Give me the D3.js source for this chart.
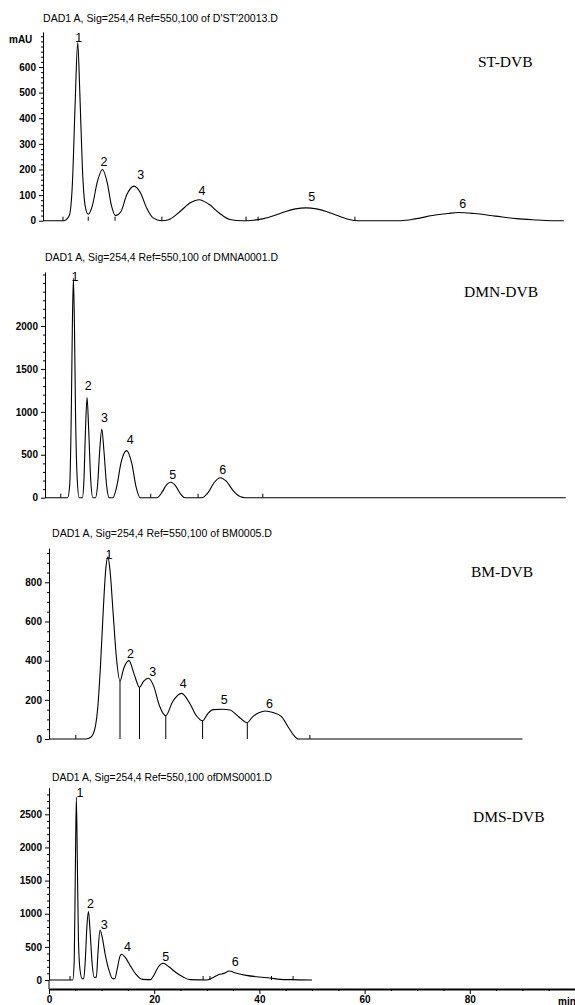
<!DOCTYPE html>
<html><head><meta charset="utf-8">
<script src="https://cdn.jsdelivr.net/npm/d3@7"></script>
<style>body{margin:0;background:#fff}svg{display:block}</style>
</head><body>
<svg id="c" width="575" height="1005"></svg>
<script>
// ---------- DATA ----------
const panelNames = ["ST-DVB", "DMN-DVB", "BM-DVB", "DMS-DVB"];
const panelTitles = [
  "DAD1 A, Sig=254,4 Ref=550,100 of D'ST'20013.D",
  "DAD1 A, Sig=254,4 Ref=550,100 of DMNA0001.D",
  "DAD1 A, Sig=254,4 Ref=550,100 of BM0005.D",
  "DAD1 A, Sig=254,4 Ref=550,100 ofDMS0001.D"
];
// [time (min), signal (mAU)]
const stTrace = [[0,0],[4,0],[5.0,20],[5.6,150],[6.1,450],[6.6,695],[7.0,500],[7.5,200],[8.0,60],[8.6,25],[9.4,60],[10.3,150],[11.3,200],[12.2,150],[13.0,60],[13.8,20],[14.8,35],[15.9,100],[17.3,135],[18.5,110],[19.7,50],[21,10],[22.5,0],[24,5],[26,35],[28,70],[29.7,82],[31.5,65],[33.5,30],[35.5,5],[38,0],[40,2],[42,8],[44,20],[46,35],[48,46],[50,50],[52,46],[54,35],[56,20],[58,6],[60,0],[68,0],[71,8],[74,20],[77,28],[79,32],[82,28],[86,18],[90,8],[94,3],[97,0],[99,0]];
const dmnTrace = [[0,0],[4.3,0],[4.7,150],[5.0,1000],[5.2,2000],[5.4,2557],[5.6,2000],[5.8,1000],[6.1,250],[6.5,0],[7.1,0],[7.4,200],[7.7,800],[8.0,1166],[8.3,800],[8.7,200],[9.1,0],[9.6,0],[10.0,150],[10.4,550],[10.8,800],[11.2,550],[11.7,150],[12.2,0],[12.9,0],[13.6,120],[14.5,420],[15.5,548],[16.5,400],[17.3,130],[18.1,0],[21.3,0],[22.3,70],[23.1,150],[23.9,180],[24.8,140],[25.7,50],[26.6,0],[29.8,0],[31,60],[32.2,180],[33.3,233],[34.5,190],[35.8,80],[37.2,10],[38,0],[99,0]];
const bmTrace = [[0,0],[7,0],[8,10],[8.7,50],[9.3,170],[9.8,380],[10.3,650],[10.8,870],[11.2,930],[11.6,860],[12.2,640],[12.8,420],[13.5,296],[14.2,360],[15.2,400],[16.2,330],[17.2,264],[18,295],[18.9,310],[19.9,270],[21,170],[22.2,119],[23.5,190],[25.2,233],[26.8,180],[28,120],[29.2,93],[30.2,130],[31.2,150],[33,152],[34.4,148],[36,115],[37.7,83],[38.6,110],[40,135],[41.1,143],[42.6,135],[44.2,114],[45.5,60],[46.5,20],[47.4,0],[90,0]];
const dmsTrace = [[0,0],[4.5,0],[4.8,300],[5.0,1600],[5.2,2760],[5.4,1700],[5.6,600],[5.9,150],[6.3,20],[6.6,20],[6.9,300],[7.2,800],[7.5,1032],[7.8,750],[8.2,250],[8.6,40],[9.0,40],[9.3,400],[9.7,755],[10.1,650],[10.7,380],[11.4,150],[12.1,20],[12.5,20],[13.0,180],[13.5,360],[13.8,388],[14.5,340],[15.5,210],[16.5,90],[17.8,10],[19.3,5],[20.0,80],[20.8,200],[21.7,252],[22.8,200],[24,120],[25.5,45],[26.8,5],[30,0],[31,30],[32.2,80],[33.3,100],[34.3,136],[35.5,105],[37.5,70],[40,45],[42,30],[44,10],[46,5],[50,0]];

// peak number labels: [time, signal]
const stLabels = [[6.8,714],[11.6,229],[18.6,178],[30.2,119],[51.1,93],[79.8,65]];
const dmnLabels = [[5.7,2576],[8.2,1305],[11.3,932],[16.2,672],[24.3,265],[33.8,331]];
const bmLabels = [[11.4,939],[15.5,437],[19.7,343],[25.5,281],[33.3,199],[41.9,179]];
const dmsLabels = [[5.9,2820],[7.9,1148],[10.5,831],[14.9,503],[22.2,352],[35.4,276]];
const peakNames = ["1","2","3","4","5","6"];

// integration event marks on baseline (min)
const stMarks = [3.8, 8.6, 13.7, 22.6, 38.6, 40.9, 59.3];
const dmnMarks = [3.0, 20.1, 29.1, 41.4];
const bmMarks = [5.1, 49.6];
const dmsMarks = [4.0, 29.3, 30.6, 42.3, 46.4];
// BM-DVB drop lines at valleys (min)
const bmDrops = [13.5, 17.2, 22.2, 29.2, 37.7];

const stTicks = [0,100,200,300,400,500,600];
const dmnTicks = [0,500,1000,1500,2000];
const bmTicks = [0,200,400,600,800];
const dmsTicks = [0,500,1000,1500,2000,2500];
const xTicks = [0,20,40,60,80];

// ---------- LAYOUT ----------
const layout = [
  {ax:43, y0:220.7, yRef:67, vRef:600, vTop:737, minor:20, tx:43, ty:18, tw:235, nx:478, ny:62},
  {ax:45, y0:497.7, yRef:326, vRef:2000, vTop:2630, minor:100, tx:45, ty:257, tw:233, nx:464, ny:292},
  {ax:49, y0:739, yRef:582.3, vRef:800, vTop:975, minor:50, tx:52, ty:533, tw:220, nx:471, ny:572},
  {ax:49, y0:980, yRef:814.3, vRef:2500, vTop:2900, minor:100, tx:52, ty:777, tw:220, nx:473, ny:817}
];
const traces = [stTrace, dmnTrace, bmTrace, dmsTrace];
const labels = [stLabels, dmnLabels, bmLabels, dmsLabels];
const marks = [stMarks, dmnMarks, bmMarks, dmsMarks];
const ticks = [stTicks, dmnTicks, bmTicks, dmsTicks];

const svg = d3.select("#c");
const sans = "'Liberation Sans', Arial, sans-serif";
const serif = "'Liberation Serif', 'Times New Roman', serif";

layout.forEach((L, i) => {
  const g = svg.append("g");
  const pxPerUnit = (L.y0 - L.yRef) / L.vRef;
  const yTopPx = L.y0 - L.vTop * pxPerUnit;
  const y = d3.scaleLinear().domain([0, L.vTop]).range([L.y0, yTopPx]);
  const x = d3.scaleLinear().domain([0, 100]).range([L.ax, L.ax + 526]);

  // title
  g.append("text").attr("x", L.tx).attr("y", L.ty).attr("dy", "0.35em")
    .attr("textLength", L.tw).attr("lengthAdjust", "spacingAndGlyphs")
    .style("font-family", sans).style("font-size", "10.5px").text(panelTitles[i]);
  // panel name
  g.append("text").attr("x", L.nx).attr("y", L.ny).attr("dy", "0.35em")
    .style("font-family", serif).style("font-size", "15.5px").text(panelNames[i]);

  // minor ticks
  const minorVals = d3.range(0, L.vTop, L.minor).filter(v => !ticks[i].includes(v));
  g.append("g").attr("transform", `translate(${L.ax},0)`)
    .call(d3.axisLeft(y).tickValues(minorVals).tickSize(2).tickFormat(""))
    .call(a => a.select(".domain").remove());
  // major axis
  const ya = g.append("g").attr("transform", `translate(${L.ax},0)`)
    .call(d3.axisLeft(y).tickValues(ticks[i]).tickSize(4).tickSizeOuter(0).tickPadding(3).tickFormat(d3.format("d")));
  ya.selectAll("text").style("font-family", sans).style("font-size", "10px").style("font-weight", "bold");
  ya.selectAll("line,path").attr("stroke", "#000").attr("stroke-width", 1);

  if (i === 3) {
    g.append("line").attr("x1", L.ax).attr("x2", L.ax).attr("y1", L.y0).attr("y2", 989).attr("stroke", "#000");
  }

  // trace
  g.append("path").datum(traces[i])
    .attr("d", d3.line().x(d => x(d[0])).y(d => y(d[1])).curve(d3.curveMonotoneX))
    .attr("fill", "none").attr("stroke", "#000").attr("stroke-width", 1.1);

  // baseline event marks
  g.selectAll("line.mk").data(marks[i]).join("line")
    .attr("x1", d => x(d)).attr("x2", d => x(d))
    .attr("y1", y(0)).attr("y2", y(0) - 4).attr("stroke", "#000").attr("stroke-width", 1);

  // drop lines (BM)
  if (i === 2) {
    g.selectAll("line.drop").data(bmDrops).join("line")
      .attr("x1", d => x(d)).attr("x2", d => x(d))
      .attr("y1", y(0)).attr("y2", d => y(bmTrace.find(p => p[0] === d)[1]))
      .attr("stroke", "#000").attr("stroke-width", 1);
  }

  // peak labels
  g.selectAll("text.pk").data(labels[i]).join("text")
    .attr("x", d => x(d[0])).attr("y", d => y(d[1])).attr("dy", "0.35em")
    .attr("text-anchor", "middle")
    .style("font-family", sans).style("font-size", "12.5px")
    .text((d, k) => peakNames[k]);

  if (i === 0) {
    g.append("text").attr("x", 9).attr("y", 39).attr("dy", "0.35em")
      .style("font-family", sans).style("font-size", "10px").style("font-weight", "bold").text("mAU");
  }
});

// bottom time axis
const xb = d3.scaleLinear().domain([0, 100]).range([49, 575]);
const xMinor = d3.range(0, 101, 5).filter(v => !xTicks.includes(v));
svg.append("g").attr("transform", "translate(0,989)")
  .call(d3.axisBottom(xb).tickValues(xMinor).tickSize(2).tickFormat(""))
  .call(a => a.select(".domain").remove());
const xa = svg.append("g").attr("transform", "translate(0,989)")
  .call(d3.axisBottom(xb).tickValues(xTicks).tickSize(5).tickSizeOuter(0).tickPadding(2).tickFormat(d3.format("d")));
xa.select(".domain").attr("stroke-width", 1.8);
xa.selectAll("text").style("font-family", sans).style("font-size", "10px").style("font-weight", "bold");
svg.append("text").attr("x", 567).attr("y", 1001).attr("dy", "0.35em").attr("text-anchor", "middle")
  .style("font-family", sans).style("font-size", "10px").style("font-weight", "bold").text("min");
</script>
</body></html>
